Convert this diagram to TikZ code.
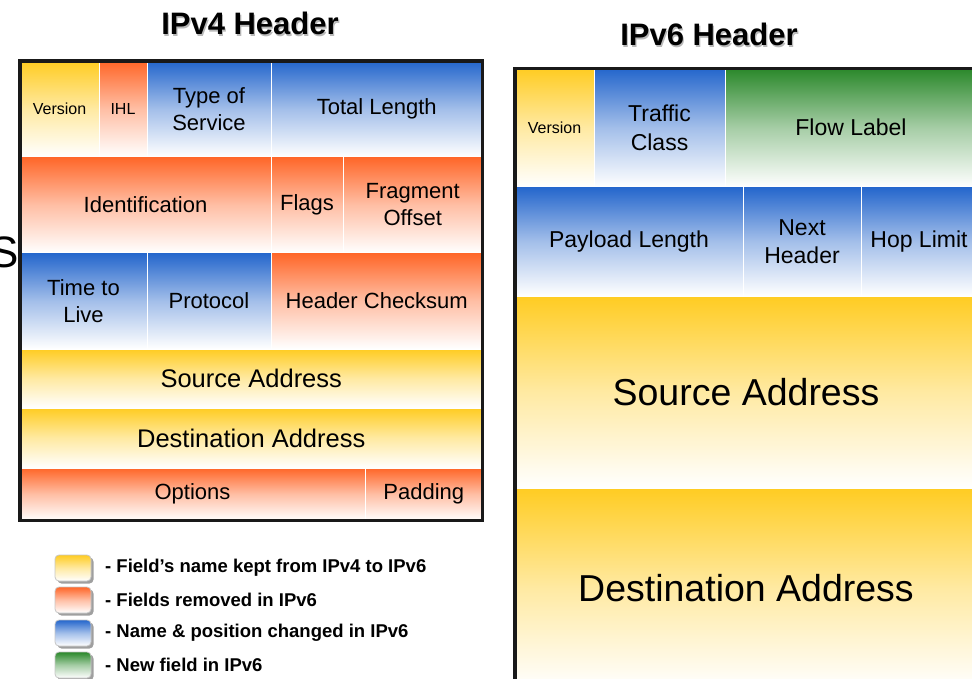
\documentclass[tikz,border=0pt]{standalone}
\usepackage{fontspec}
\setmainfont{Liberation Sans}
\usetikzlibrary{shadows}
\definecolor{cY}{HTML}{FFCC22}
\definecolor{cO}{HTML}{FF6628}
\definecolor{cB}{HTML}{2466CC}
\definecolor{cG}{HTML}{2A882A}
\newcommand\fsz[2]{\fontsize{#1}{#2}\selectfont}
% name, x1, y1, x2, y2, styles, text
\newcommand\fcell[7]{%
  \pgfmathsetmacro\cw{#4-#2}\pgfmathsetmacro\ch{#5-#3}%
  \node[cell,#6,minimum width=\cw pt,minimum height=\ch pt] (#1) at (#2,#3) {#7};}
\begin{document}
\begin{tikzpicture}[x=1pt,y=-1pt,
  cell/.style={rectangle,draw=white,line width=1pt,inner sep=0pt,outer sep=0pt,
    anchor=north west,align=center,text=black},
  yel/.style={top color=cY,bottom color=white,middle color=cY!42!white},
  ora/.style={top color=cO,bottom color=white,middle color=cO!42!white},
  blu/.style={top color=cB,bottom color=white,middle color=cB!42!white},
  grn/.style={top color=cG,bottom color=white,middle color=cG!42!white},
  f16/.style={font=\fsz{16}{19}},
  f22/.style={font=\fsz{22}{27}},
  f23/.style={font=\fsz{23}{28.5}},
  f25/.style={font=\fsz{25.5}{30}},
  f38/.style={font=\fsz{37.5}{44}},
  frame/.style={draw=black!90,line width=3.4pt},
  ttl/.style={font=\bfseries\fsz{31}{36},inner sep=0pt,anchor=base},
  legbox/.style={rectangle,rounded corners=4pt,draw=gray!45,line width=0.8pt,
    minimum width=36pt,minimum height=26pt,
    drop shadow={shadow xshift=2.5pt,shadow yshift=-2.5pt,fill=gray!75,opacity=1}},
  legtxt/.style={font=\bfseries\fsz{18.5}{22},inner sep=0pt,anchor=west}]
\useasboundingbox (0,0) rectangle (972,679);
\clip (0,0) rectangle (972,679);

% cut-off letter at the left edge
\node[font=\fsz{44}{50},inner sep=0pt,anchor=base east] (cut) at (19,268) {S};

% titles
\node[ttl,text=gray!55] (t4s) at (251.2,36.2) {IPv4 Header};
\node[ttl] (t4) at (250,35) {IPv4 Header};
\node[ttl,text=gray!55] (t6s) at (710.2,47.2) {IPv6 Header};
\node[ttl] (t6) at (709,46) {IPv6 Header};

% IPv4 header
\fcell{v4ver}{20}{61}{99}{157}{yel,f16}{Version}
\fcell{v4ihl}{99}{61}{147}{157}{ora,f16}{IHL}
\fcell{v4tos}{147}{61}{271}{157}{blu,f22}{Type of\\Service}
\fcell{v4len}{271}{61}{482.5}{157}{blu,f22}{Total Length}
\fcell{v4id}{20}{157}{271}{253}{ora,f22}{Identification}
\fcell{v4flg}{271}{157}{343}{253}{ora,f22}{Flags}
\fcell{v4frg}{343}{157}{482.5}{253}{ora,f22}{Fragment\\Offset}
\fcell{v4ttl}{20}{253}{147}{349}{blu,f22}{Time to\\Live}
\fcell{v4pro}{147}{253}{271}{349}{blu,f22}{Protocol}
\fcell{v4chk}{271}{253}{482.5}{349}{ora,f22}{Header Checksum}
\fcell{v4src}{20}{349}{482.5}{408}{yel,f25}{Source Address}
\fcell{v4dst}{20}{408}{482.5}{468}{yel,f25}{Destination Address}
\fcell{v4opt}{20}{468}{365}{520.5}{ora,f22}{Options}
\fcell{v4pad}{365}{468}{482.5}{520.5}{ora,f22}{Padding}
\draw[frame] (v4ver.north west) rectangle (v4pad.south east);

% IPv6 header
\fcell{v6ver}{515}{68.3}{594}{187}{yel,f16}{Version}
\fcell{v6tc}{594}{68.3}{725}{187}{blu,f23}{Traffic\\Class}
\fcell{v6fl}{725}{68.3}{977}{187}{grn,f23}{Flow Label}
\fcell{v6pl}{515}{187}{743}{296}{blu,f23}{Payload Length}
\fcell{v6nh}{743}{187}{861}{296}{blu,f23}{Next\\Header}
\fcell{v6hl}{861}{187}{977}{296}{blu,f23}{Hop Limit}
\fcell{v6src}{515}{296}{977}{488}{yel,f38}{Source Address}
\fcell{v6dst}{515}{488}{977}{688}{yel,f38}{Destination Address}
\draw[frame] (v6ver.north west) rectangle (v6dst.south east);

% legend
\node[legbox,yel] (l1) at (73,568) {};
\node[legbox,ora] (l2) at (73,600) {};
\node[legbox,blu] (l3) at (73,633) {};
\node[legbox,grn] (l4) at (73,665) {};
\node[legtxt] (lt1) at (105,568) {- Field’s name kept from IPv4 to IPv6};
\node[legtxt] (lt2) at (105,600) {- Fields removed in IPv6};
\node[legtxt] (lt3) at (105,633) {- Name \& position changed in IPv6};
\node[legtxt] (lt4) at (105,665) {- New field in IPv6};
\end{tikzpicture}
\end{document}
